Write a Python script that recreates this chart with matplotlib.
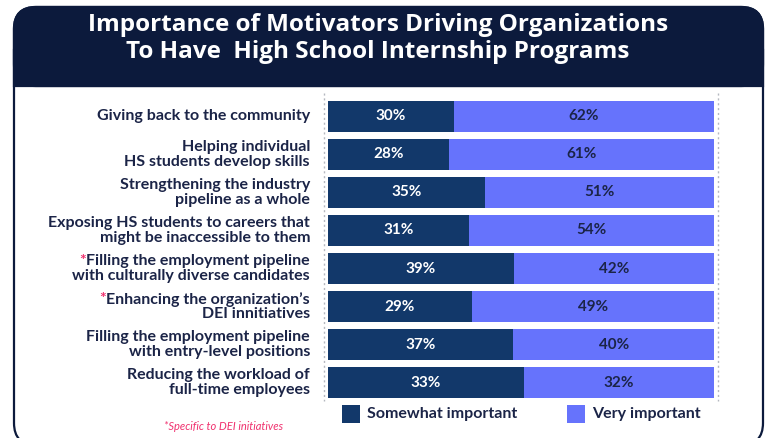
import matplotlib
matplotlib.use("Agg")
import matplotlib.pyplot as plt
from matplotlib.patches import FancyBboxPatch, Rectangle
from matplotlib.lines import Line2D
from matplotlib.transforms import Affine2D, blended_transform_factory, offset_copy
import numpy as np

motivators = [
    "Giving back to the community",
    "Helping individual\nHS students develop skills",
    "Strengthening the industry\npipeline as a whole",
    "Exposing HS students to careers that\nmight be inaccessible to them",
    "Filling the employment pipeline\nwith culturally diverse candidates",
    "Enhancing the organization\u2019s\nDEI innitiatives",
    "Filling the employment pipeline\nwith entry-level positions",
    "Reducing the workload of\nfull-time employees",
]
dei_specific = [False, False, False, False, True, True, False, False]
somewhat = [30, 28, 35, 31, 39, 29, 37, 33]
very = [62, 61, 51, 54, 42, 49, 40, 32]
series_names = ["Somewhat important", "Very important"]

NAVY = "#0c1a3c"
TEXT = "#1b2447"
DARK = "#12386a"
LIGHT = "#6673fc"
PINK = "#f0306e"
FONT = "Lato"
LAB_SIZE = 11.5
PITCH = 15  # px between label lines

W, H = 768, 438
fig = plt.figure(figsize=(W / 100, H / 100), dpi=100)
# pixel coordinates, origin at top-left
px = Affine2D().scale(1, -1).translate(0, H).scale(1 / W, 1 / H) + fig.transFigure

# card outline and header band
card = FancyBboxPatch((14, 7), 749, 438, boxstyle="round,pad=0,rounding_size=22",
                      fc="white", ec=NAVY, lw=1.6, transform=px, zorder=-2)
fig.patches.append(card)
head = FancyBboxPatch((14, 7), 749, 79, boxstyle="round,pad=0,rounding_size=22",
                      fc=NAVY, ec=NAVY, lw=1.6, transform=px, zorder=-1)
fig.patches.append(head)
fig.patches.append(Rectangle((14, 50), 749, 36, fc=NAVY, ec=NAVY, lw=1.6,
                             transform=px, zorder=-1))

for yb, line in [(31, "Importance of Motivators Driving Organizations"),
                 (58, "To Have  High School Internship Programs")]:
    fig.text(378, yb, line, transform=px, ha="center", va="baseline",
             color="white", fontsize=17.5, fontweight="bold", family="Open Sans")

# bars, normalised so each row fills the full width
ax = fig.add_axes([328 / W, 1 - 402 / H, 386 / W, 305 / H])
s = np.array(somewhat, float)
v = np.array(very, float)
tot = s + v
y = np.arange(len(motivators))
ax.barh(y, s / tot, height=0.81, color=DARK, label=series_names[0])
ax.barh(y, v / tot, left=s / tot, height=0.81, color=LIGHT, label=series_names[1])
for i in y:
    ax.text(s[i] / tot[i] / 2, i, f"{somewhat[i]}%", ha="center", va="center",
            color="white", fontsize=11, fontweight="bold", family=FONT)
    ax.text(s[i] / tot[i] + v[i] / tot[i] / 2, i, f"{very[i]}%", ha="center",
            va="center", color=TEXT, fontsize=11, fontweight="bold", family=FONT)
ax.set_xlim(0, 1)
ax.set_ylim(len(motivators) - 0.5, -0.5)
ax.axis("off")

# category labels, one text per line, pink asterisk for the DEI rows
trans = blended_transform_factory(fig.transFigure, ax.transData)
lab_x = 310 / W
fig.canvas.draw()
renderer = fig.canvas.get_renderer()
for i, (name, star) in enumerate(zip(motivators, dei_specific)):
    lines = name.split("\n")
    n = len(lines)
    for k, line in enumerate(lines):
        dy = ((n - 1) / 2 - k) * PITCH * 0.72  # pixels -> points
        tr = offset_copy(trans, fig=fig, y=dy, units="points")
        t = fig.text(lab_x, i, line, transform=tr, ha="right", va="center",
                     color=TEXT, fontsize=LAB_SIZE, fontweight="bold", family=FONT)
        if star and k == 0:
            bb = t.get_window_extent(renderer)
            fig.text((bb.x0 - 0.5) / W, bb.y1 / H, "*", ha="right", va="top",
                     color=PINK, fontsize=LAB_SIZE, fontweight="bold",
                     family=FONT)

# dotted guides at both ends of the bars
for xg in (324, 718):
    fig.lines.append(Line2D([xg, xg], [93, 401], transform=px, color="#b5b8c0",
                            lw=1.0, ls=(0, (1.5, 2))))

# legend
for xs, name, col in [(342, series_names[0], DARK), (567, series_names[1], LIGHT)]:
    fig.patches.append(Rectangle((xs, 405), 18, 18, fc=col, ec="none", transform=px))
    fig.text(xs + 25, 414, name, transform=px, ha="left", va="center", color=TEXT,
             fontsize=11.5, fontweight="bold", family=FONT)

fig.text(224, 427, "*Specific to DEI initiatives", transform=px, ha="center",
         va="center", color=PINK, fontsize=8, style="italic", family=FONT)

fig.savefig("out.png", dpi=100)
